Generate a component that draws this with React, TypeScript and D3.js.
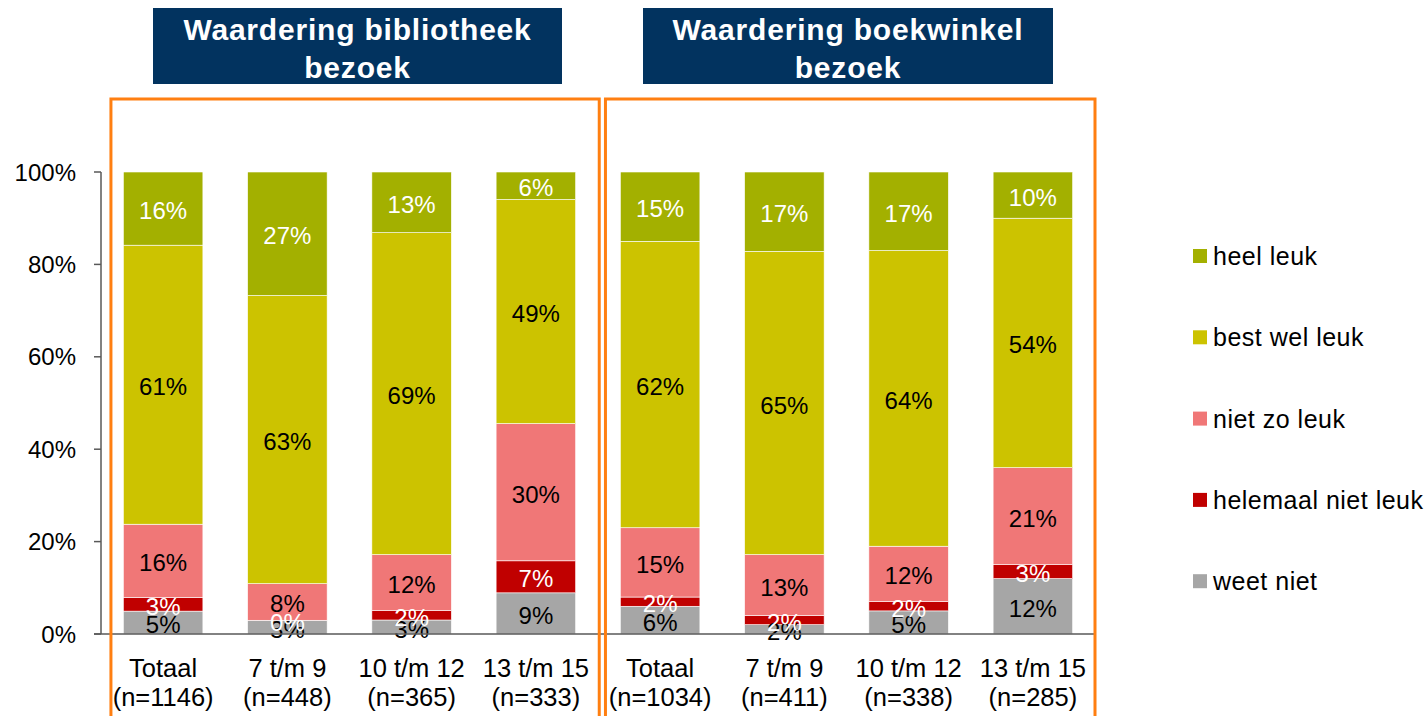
import React from "react";
import * as d3 from "d3";

const categories = ["Totaal", "7 t/m 9", "10 t/m 12", "13 t/m 15", "Totaal", "7 t/m 9", "10 t/m 12", "13 t/m 15"];
const nLabels = ["(n=1146)", "(n=448)", "(n=365)", "(n=333)", "(n=1034)", "(n=411)", "(n=338)", "(n=285)"];
const groupTitles = [["Waardering bibliotheek", "bezoek"], ["Waardering boekwinkel", "bezoek"]];

const seriesNames = ["weet niet", "helemaal niet leuk", "niet zo leuk", "best wel leuk", "heel leuk"];
const weetNiet = [5, 3, 3, 9, 6, 2, 5, 12];
const helemaalNiet = [3, 0, 2, 7, 2, 2, 2, 3];
const nietZo = [16, 8, 12, 30, 15, 13, 12, 21];
const bestWel = [61, 63, 69, 49, 62, 65, 64, 54];
const heelLeuk = [16, 27, 13, 6, 15, 17, 17, 10];
const yTicks = [0, 0.2, 0.4, 0.6, 0.8, 1];

const colors = ["#a6a6a6", "#c00000", "#f07777", "#ccc300", "#a3b000"];
const labelColors = ["#000", "#fff", "#000", "#000", "#fff"];

const W = 1426, H = 716;
const FONT = "'Liberation Sans', Arial, sans-serif";

export default function App() {
  const seriesValues = [weetNiet, helemaalNiet, nietZo, bestWel, heelLeuk];
  const rows = categories.map((c, i) => {
    const r: any = { idx: i };
    seriesNames.forEach((s, k) => (r[s] = seriesValues[k][i]));
    return r;
  });
  const stack = d3.stack<any>().keys(seriesNames).offset(d3.stackOffsetExpand);
  const stacked = stack(rows);

  const x = d3.scaleBand<number>().domain(d3.range(categories.length)).range([101, 1095]).paddingInner(0.36).paddingOuter(0.18);
  const y = d3.scaleLinear().domain([0, 1]).range([634, 172]);
  const bw = x.bandwidth();

  const groupSpans = [
    [x(0)! - x.step() * 0.1, x(3)! + bw + x.step() * 0.19],
    [x(4)! - x.step() * 0.12, x(7)! + bw + x.step() * 0.18],
  ];
  const titleBoxes = [
    [153, 562],
    [643, 1053],
  ];

  return (
    <svg width={W} height={H} style={{ position: "absolute", left: 0, top: 0, background: "#fff" }} fontFamily={FONT}>
      {/* title boxes */}
      {titleBoxes.map((b, i) => (
        <g key={"t" + i}>
          <rect x={b[0]} y={8} width={b[1] - b[0]} height={76} fill="#02335f" />
          {groupTitles[i].map((t, j) => (
            <text key={j} x={(b[0] + b[1]) / 2} y={29 + j * 38} textAnchor="middle" dominantBaseline="central" fill="#fff" fontWeight="bold" fontSize={30} letterSpacing={0.8}>
              {t}
            </text>
          ))}
        </g>
      ))}

      {/* bars */}
      {stacked.map((s, k) => (
        <g key={s.key}>
          {s.map((d, i) => (
            <rect key={i} x={x(i)!} y={y(d[1])} width={bw} height={Math.max(0, y(d[0]) - y(d[1]))} fill={colors[k]} stroke="#fff" strokeWidth={0.6} />
          ))}
        </g>
      ))}
      {/* labels */}
      {stacked.map((s, k) => (
        <g key={"l" + s.key}>
          {s.map((d, i) => (
            <text key={i} x={x(i)! + bw / 2} y={(y(d[0]) + y(d[1])) / 2 + 2} textAnchor="middle" dominantBaseline="central" fontSize={24} fill={labelColors[k]}>
              {seriesValues[k][i] + "%"}
            </text>
          ))}
        </g>
      ))}

      {/* axes */}
      <line x1={101} x2={101} y1={y(1)} y2={y(0)} stroke="#595959" strokeWidth={1.5} />
      <line x1={94} x2={1095} y1={y(0)} y2={y(0)} stroke="#595959" strokeWidth={1.5} />
      {yTicks.map((t) => (
        <g key={t}>
          <line x1={94} x2={101} y1={y(t)} y2={y(t)} stroke="#595959" strokeWidth={1.5} />
          <text x={76} y={y(t)} textAnchor="end" dominantBaseline="central" fontSize={24} fill="#000">
            {d3.format(".0%")(t)}
          </text>
        </g>
      ))}
      {categories.map((c, i) => (
        <g key={"c" + i}>
          <text x={x(i)! + bw / 2} y={668} textAnchor="middle" dominantBaseline="central" fontSize={25.5} fill="#000">{c}</text>
          <text x={x(i)! + bw / 2} y={697} textAnchor="middle" dominantBaseline="central" fontSize={25.5} fill="#000">{nLabels[i]}</text>
        </g>
      ))}

      {/* orange group frames */}
      {groupSpans.map((g, i) => (
        <path key={"o" + i} d={`M${g[0]},${H + 5} V99 H${g[1]} V${H + 5}`} fill="none" stroke="#ff7f11" strokeWidth={3} />
      ))}

      {/* legend */}
      {seriesNames.slice().reverse().map((s, j) => {
        const k = seriesNames.length - 1 - j;
        const cy = 256 + j * 81.3;
        return (
          <g key={"lg" + s}>
            <rect x={1193} y={cy - 7} width={14} height={14} fill={colors[k]} />
            <text x={1213} y={cy} dominantBaseline="central" fontSize={25} letterSpacing={0.5} fill="#000">{s}</text>
          </g>
        );
      })}
    </svg>
  );
}
